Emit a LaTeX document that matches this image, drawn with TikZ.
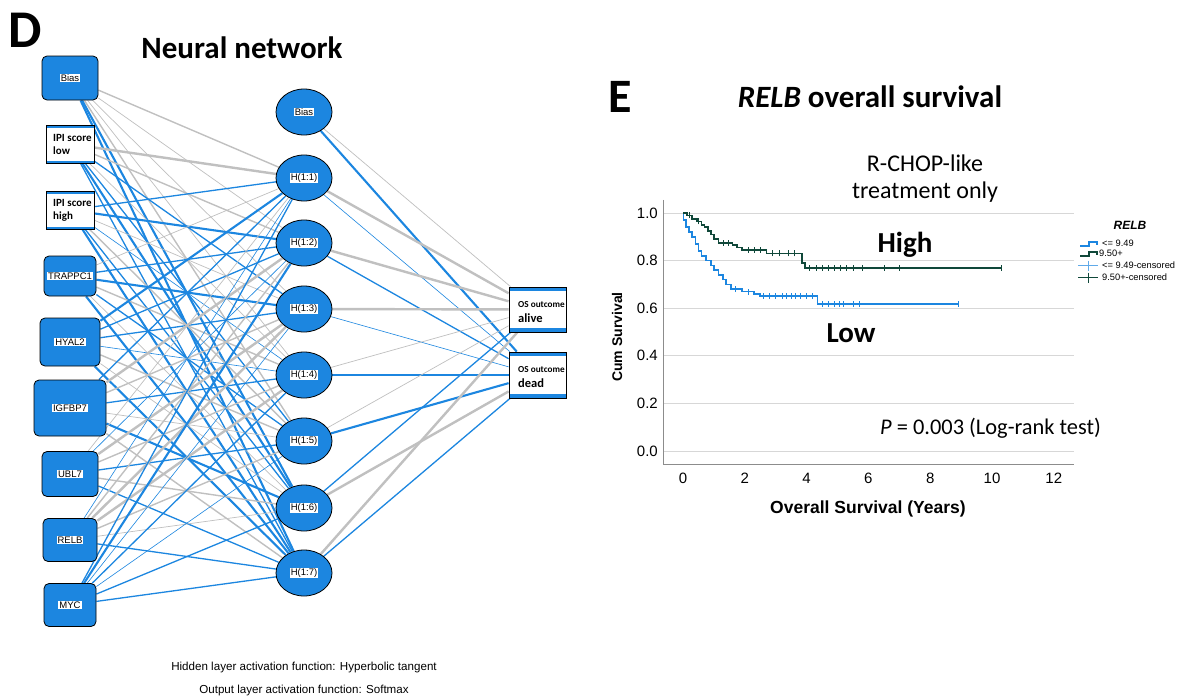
\documentclass[tikz,border=0pt]{standalone}
\usepackage{fontspec}
\setmainfont{Liberation Sans}
\newfontfamily\calfont{Carlito}
\usetikzlibrary{shapes.geometric}
\pgfdeclarelayer{paper}
\pgfdeclarelayer{lines}
\pgfsetlayers{paper,lines,main}
\definecolor{nnblue}{RGB}{28,134,224}
\definecolor{lgray}{RGB}{192,192,192}
\definecolor{hicol}{RGB}{16,72,58}
\definecolor{gridc}{RGB}{215,215,215}
\definecolor{axc}{RGB}{140,140,140}
\setlength{\fboxsep}{1pt}
\newcommand{\wl}[1]{\colorbox{white}{#1}}
\begin{document}
\begin{tikzpicture}[x=1pt,y=-1pt,
  inbox/.style={rectangle, draw=black, line width=0.8pt, fill=nnblue, rounded corners=5pt, inner sep=0pt, font=\fontsize{9.5}{11}\selectfont},
  stripbox/.style={rectangle, draw=black, line width=0.8pt, fill=white, inner sep=0pt,
     path picture={\fill[nnblue] ([yshift=-0.5pt]path picture bounding box.north west) rectangle ([yshift=-2.5pt]path picture bounding box.north east);
                   \fill[nnblue] ([yshift=0.5pt]path picture bounding box.south west) rectangle ([yshift=2.5pt]path picture bounding box.south east);}},
  outbox/.style={rectangle, draw=black, line width=0.8pt, fill=white, inner sep=0pt, minimum width=57pt,
     path picture={\fill[nnblue] (path picture bounding box.north west) rectangle ([yshift=-4pt]path picture bounding box.north east);
                   \fill[nnblue] (path picture bounding box.south west) rectangle ([yshift=4pt]path picture bounding box.south east);}},
  hid/.style={ellipse, draw=black, line width=0.8pt, fill=nnblue, minimum width=56pt, minimum height=46pt, inner sep=0pt, font=\fontsize{9.5}{11}\selectfont},
  ipitxt/.style={font=\calfont\bfseries\fontsize{11}{13}\selectfont, align=left, anchor=west, inner sep=0pt},
  ostxt/.style={font=\calfont\bfseries\fontsize{9.2}{10}\selectfont, anchor=west, inner sep=0pt},
  osbig/.style={font=\calfont\bfseries\fontsize{12.5}{13}\selectfont, anchor=west, inner sep=0pt},
  gthin/.style={lgray, line width=0.7pt},
  gmed/.style={lgray, line width=1.4pt},
  gthick/.style={lgray, line width=2.4pt},
  bthin/.style={nnblue, line width=0.6pt},
  bmed/.style={nnblue, line width=1.3pt},
  bthick/.style={nnblue, line width=2.1pt},
  ticklab/.style={font=\fontsize{15}{16}\selectfont},
  legtxt/.style={anchor=west, font=\fontsize{9.3}{10}\selectfont, inner sep=0pt}
]
\begin{pgfonlayer}{paper}
\useasboundingbox[fill=white] (0,0) rectangle (1177,697);
\end{pgfonlayer}

% ---------- Panel D ----------
\node[font=\calfont\bfseries\fontsize{53}{55}\selectfont, anchor=west, inner sep=0pt] (lD) at (8,30) {D};
\node[font=\calfont\bfseries\fontsize{31}{33}\selectfont] (tD) at (242,48) {Neural network};

% input layer
\node[inbox, minimum width=56pt, minimum height=44pt] (ib) at (70,78) {\wl{Bias}};
\node[stripbox, minimum width=48pt, minimum height=38pt] (lo) at (70,144) {};
\node[ipitxt] (lot) at (53,144) {IPI score\\low};
\node[stripbox, minimum width=48pt, minimum height=38pt] (hi) at (70,210) {};
\node[ipitxt] (hit) at (53,210) {IPI score\\high};
\node[inbox, minimum width=52pt, minimum height=40pt] (tr) at (70,276) {\wl{TRAPPC1}};
\node[inbox, minimum width=60pt, minimum height=48pt] (hy) at (70,342) {\wl{HYAL2}};
\node[inbox, minimum width=72pt, minimum height=56pt] (ig) at (70,408) {\wl{IGFBP7}};
\node[inbox, minimum width=56pt, minimum height=45pt] (ub) at (70,474) {\wl{UBL7}};
\node[inbox, minimum width=54pt, minimum height=43pt] (re) at (70,540) {\wl{RELB}};
\node[inbox, minimum width=52pt, minimum height=43pt] (my) at (70,605) {\wl{MYC}};

% hidden layer
\node[hid] (hb) at (304,112) {\wl{Bias}};
\node[hid] (h1) at (304,178) {\wl{H(1:1)}};
\node[hid] (h2) at (304,243) {\wl{H(1:2)}};
\node[hid] (h3) at (304,309) {\wl{H(1:3)}};
\node[hid] (h4) at (304,375) {\wl{H(1:4)}};
\node[hid] (h5) at (304,441) {\wl{H(1:5)}};
\node[hid] (h6) at (304,508) {\wl{H(1:6)}};
\node[hid] (h7) at (304,573) {\wl{H(1:7)}};

% output layer
\node[outbox, minimum height=45pt] (oa) at (537.5,309.5) {};
\node[ostxt] (oat1) at (518,305) {OS outcome};
\node[osbig] (oat2) at (518,318.5) {alive};
\node[outbox, minimum height=46pt] (od) at (537.5,375) {};
\node[ostxt] (odt1) at (518,369.5) {OS outcome};
\node[osbig] (odt2) at (518,383) {dead};

\begin{pgfonlayer}{lines}
\foreach \i/\a/\b/\c/\d/\e/\f/\g in {
  ib/gmed/gthin/gthin/gthin/gmed/bthick/bthick,
  lo/gthick/gmed/bmed/gthin/bmed/bthick/bmed,
  hi/bmed/bthick/gthin/bthin/gmed/bmed/bthick,
  tr/gthin/bmed/bthick/gmed/bmed/gthin/bthick,
  hy/bthick/bmed/bmed/bthin/gmed/gthin/bthick,
  ig/bmed/gthick/gmed/bmed/gthin/bthick/gmed,
  ub/gthin/bthin/gthick/gmed/bmed/gmed/bmed,
  re/bthin/gmed/gthick/gthick/gmed/gthin/bmed,
  my/bmed/bthick/bthin/bmed/bthin/bmed/bmed}{
  \draw[\a] (\i) -- (h1);
  \draw[\b] (\i) -- (h2);
  \draw[\c] (\i) -- (h3);
  \draw[\d] (\i) -- (h4);
  \draw[\e] (\i) -- (h5);
  \draw[\f] (\i) -- (h6);
  \draw[\g] (\i) -- (h7);
}
\foreach \h/\a/\b in {hb/gthin/bthick, h1/gthick/bthin, h2/gthick/bmed, h3/gthick/bthin,
  h4/gthin/bthick, h5/gthin/bthick, h6/bmed/gthick, h7/gthick/bmed}{
  \draw[\a] (\h) -- (oa);
  \draw[\b] (\h) -- (od);
}
\end{pgfonlayer}

\node[font=\fontsize{11.6}{13}\selectfont] (f1) at (304,667) {Hidden layer activation function: Hyperbolic tangent};
\node[font=\fontsize{11.6}{13}\selectfont] (f2) at (304,690) {Output layer activation function: Softmax};

% ---------- Panel E ----------
\node[font=\calfont\bfseries\fontsize{48}{50}\selectfont, anchor=west, inner sep=0pt] (lE) at (608,97) {E};
\node[font=\calfont\bfseries\fontsize{31}{33}\selectfont] (tE) at (870,97) {\textit{RELB} overall survival};
\node[font=\calfont\fontsize{24}{27}\selectfont, align=center] (sub) at (925,179) {R-CHOP-like\\treatment only};

\begin{scope}[shift={(683pt,-451pt)}, x=30.9pt, y=238pt]
  \foreach \s in {0,0.2,0.4,0.6,0.8,1.0}{
    \draw[gridc, line width=1pt] (-0.647,\s) -- (12.65,\s);
  }
  \draw[axc, line width=1pt] (-0.647,1.055) -- (-0.647,-0.0546) -- (12.65,-0.0546);
  \foreach \s/\l in {0/0.0,0.2/0.2,0.4/0.4,0.6/0.6,0.8/0.8,1.0/1.0}{
    \node[ticklab, anchor=east, inner sep=0pt] at (-0.81,\s) {\l};
  }
  \foreach \t in {0,2,4,6,8,10,12}{
    \node[ticklab, inner sep=0pt] at (\t,-0.115) {\t};
  }
  % Low curve
  \draw[nnblue, line width=1.6pt] (0,1) -| (0.02,0.97) -| (0.1,0.94) -| (0.2,0.92) -| (0.3,0.90) -| (0.4,0.87)
     -| (0.5,0.84) -| (0.6,0.82) -| (0.75,0.80) -| (0.9,0.78) -| (1.0,0.76) -| (1.15,0.74) -| (1.3,0.72)
     -| (1.4,0.70) -| (1.55,0.68) -| (1.9,0.67) -| (2.3,0.66) -| (2.5,0.652) -| (4.35,0.618) -- (8.9,0.618);
  \foreach \t/\s in {1.7/0.68,2.1/0.67,2.6/0.652,2.8/0.652,3.0/0.652,3.2/0.652,3.35/0.652,3.5/0.652,3.65/0.652,3.8/0.652,4.0/0.652,4.2/0.652,
     4.5/0.618,4.7/0.618,4.9/0.618,5.05/0.618,5.2/0.618,5.5/0.618,5.7/0.618,8.9/0.618}{
    \draw[nnblue, line width=0.6pt] (\t,\s) ++(0,-3pt) -- ++(0,6pt);
  }
  % High curve
  \draw[hicol, line width=1.6pt] (0,1) -| (0.12,0.99) -| (0.3,0.975) -| (0.45,0.965) -| (0.6,0.95) -| (0.7,0.94)
     -| (0.8,0.925) -| (0.9,0.91) -| (1.0,0.89) -| (1.15,0.875) -| (1.6,0.865) -| (1.75,0.855) -| (1.9,0.845)
     -| (2.7,0.83) -| (3.85,0.79) -| (3.95,0.77) -- (10.3,0.77);
  \foreach \t/\s in {0.2/0.99,0.5/0.965,1.3/0.875,1.45/0.875,2.1/0.845,2.3/0.845,2.5/0.845,2.9/0.83,3.1/0.83,3.4/0.83,3.6/0.83,
     4.1/0.77,4.3/0.77,4.5/0.77,4.7/0.77,4.9/0.77,5.1/0.77,5.3/0.77,5.5/0.77,5.8/0.77,6.5/0.77,7.0/0.77,10.3/0.77}{
    \draw[hicol, line width=0.6pt] (\t,\s) ++(0,-3pt) -- ++(0,6pt);
  }
\end{scope}

\node[font=\bfseries\fontsize{14}{15}\selectfont, rotate=90] (ylab) at (617,337) {Cum Survival};
\node[font=\bfseries\fontsize{17.5}{19}\selectfont] (xlab) at (868,509) {Overall Survival (Years)};
\node[font=\calfont\bfseries\fontsize{29}{30}\selectfont] (hiL) at (905,245) {High};
\node[font=\calfont\bfseries\fontsize{29}{30}\selectfont] (loL) at (851,333) {Low};
\node[font=\calfont\fontsize{22.4}{24}\selectfont, anchor=west, inner sep=0pt] (pv) at (880,428) {\textit{P} = 0.003 (Log-rank test)};

% legend
\node[font=\bfseries\itshape\fontsize{12}{13}\selectfont] (lg) at (1130,225) {RELB};
\draw[nnblue, line width=2pt] (1080,246) -- (1089,246) -- (1089,241.5) -- (1097,241.5) -- (1097,245);
\node[legtxt] (l1) at (1102,243) {<= 9.49};
\draw[hicol, line width=2pt] (1080,256) -- (1089,256) -- (1089,251.5) -- (1097,251.5) -- (1097,255);
\node[legtxt] (l2) at (1099,253) {9.50+};
\draw[nnblue!70, line width=0.7pt] (1078,265.5) -- (1098,265.5) (1088,260.5) -- (1088,270.5);
\node[legtxt] (l3) at (1102,265.5) {<= 9.49-censored};
\draw[hicol, line width=0.7pt] (1078,277.5) -- (1098,277.5) (1088,272.5) -- (1088,282.5);
\node[legtxt] (l4) at (1102,277.5) {9.50+-censored};
\end{tikzpicture}
\end{document}
